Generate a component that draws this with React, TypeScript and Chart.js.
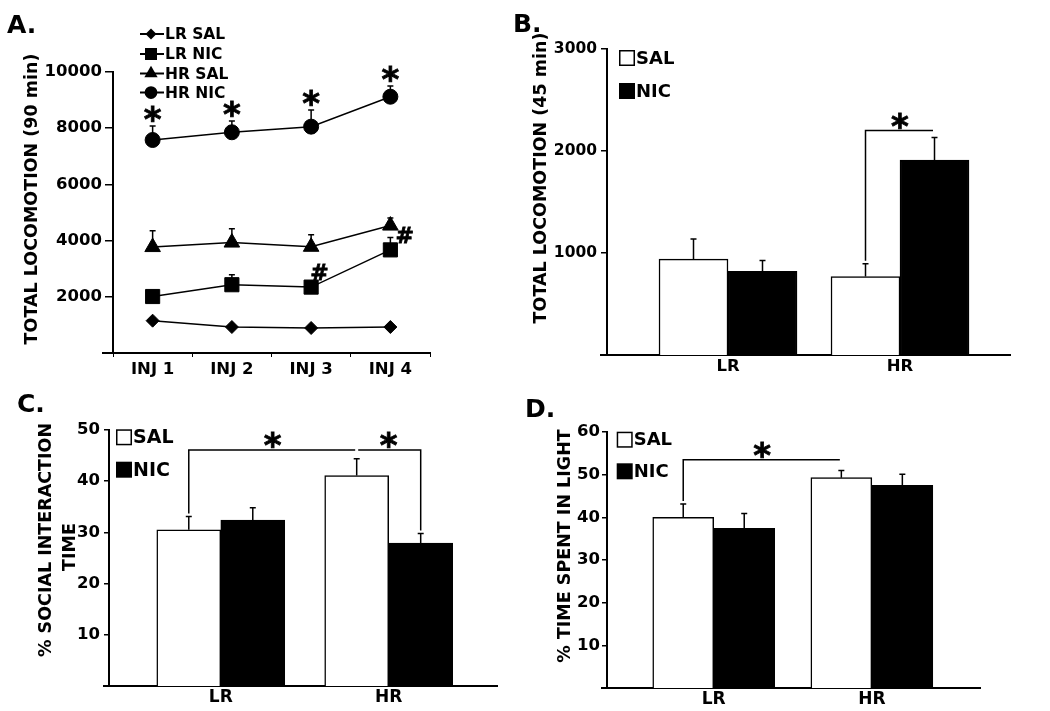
import React, { useEffect, useRef } from 'react';
import { Chart, registerables } from 'chart.js';

Chart.register(...registerables);

// ---------------- Panel A data ----------------
const INJ_LABELS = ['INJ 1', 'INJ 2', 'INJ 3', 'INJ 4'];
const A_SERIES_NAMES = ['LR SAL', 'LR NIC', 'HR SAL', 'HR NIC'];
const LR_SAL = [1150, 925, 890, 925];
const LR_SAL_ERR = [90, 70, 70, 70];
const LR_NIC = [2010, 2430, 2345, 3670];
const LR_NIC_ERR = [180, 355, 170, 440];
const HR_SAL = [3770, 3930, 3780, 4535];
const HR_SAL_ERR = [580, 490, 430, 265];
const HR_NIC = [7580, 7855, 8055, 9120];
const HR_NIC_ERR = [500, 400, 590, 380];
const A_Y_TICKS = [2000, 4000, 6000, 8000, 10000];
const A_STAR_INDEX = [0, 1, 2, 3]; // HR NIC points marked *
const A_HASH_INDEX = [2, 3]; // LR NIC points marked #

// ---------------- Panels B, C, D data ----------------
const GROUPS = ['LR', 'HR'];
const TREATMENTS = ['SAL', 'NIC'];

const B_SAL = [940, 770];
const B_SAL_ERR = [197, 124];
const B_NIC = [820, 1910];
const B_NIC_ERR = [107, 223];
const B_Y_TICKS = [1000, 2000, 3000];
const B_BRACKETS = [{ from: [1, 0], to: [1, 1], y: 2200, legFrom: true, legTo: false }];

const C_SAL = [30.5, 41.1];
const C_SAL_ERR = [2.6, 3.3];
const C_NIC = [32.4, 27.9];
const C_NIC_ERR = [2.4, 1.9];
const C_Y_TICKS = [10, 20, 30, 40, 50];
const C_BRACKETS = [
  { from: [0, 0], to: [1, 0], y: 46.1, legFrom: true, legTo: false },
  { from: [1, 0], to: [1, 1], y: 46.1, legFrom: false, legTo: true },
];

const D_SAL = [40.0, 49.3];
const D_SAL_ERR = [3.1, 1.7];
const D_NIC = [37.4, 47.5];
const D_NIC_ERR = [3.5, 2.6];
const D_Y_TICKS = [10, 20, 30, 40, 50, 60];
const D_BRACKETS = [{ from: [0, 0], to: [1, 0], y: 53.5, legFrom: true, legTo: false }];

// ---------------- helpers ----------------
const FAMILY = "'DejaVu Sans', 'Liberation Sans', Arial, sans-serif";
const fnt = (size: number) => ({ family: FAMILY, size, weight: 'bold' as const, lineHeight: 1.2 });
const cssFont = (size: number) => `bold ${size}px ${FAMILY}`;
const plainNum = (v: any) => String(v);

type Rect = { left: number; top: number; width: number; height: number };
type Area = { l: number; t: number; r: number; b: number };

function padFor(c: Rect, a: Area, yW: number, xH: number) {
  return {
    left: a.l - c.left - yW,
    top: a.t - c.top,
    right: c.left + c.width - a.r,
    bottom: c.top + c.height - a.b - xH,
  };
}

function glyph(ctx: CanvasRenderingContext2D, s: string, cx: number, cy: number, size: number) {
  ctx.font = cssFont(size);
  ctx.textAlign = 'left';
  ctx.textBaseline = 'alphabetic';
  const m = ctx.measureText(s);
  const x = cx - (m.actualBoundingBoxRight - m.actualBoundingBoxLeft) / 2;
  const y = cy + (m.actualBoundingBoxAscent - m.actualBoundingBoxDescent) / 2;
  ctx.fillText(s, x, y);
  ctx.lineWidth = 0.8;
  ctx.strokeText(s, x, y);
}

function vText(ctx: CanvasRenderingContext2D, s: string, cx: number, cy: number, size: number) {
  ctx.save();
  ctx.translate(cx, cy);
  ctx.rotate(-Math.PI / 2);
  ctx.font = cssFont(size);
  ctx.textAlign = 'center';
  ctx.textBaseline = 'middle';
  ctx.fillText(s, 0, 0);
  ctx.restore();
}

function marker(ctx: CanvasRenderingContext2D, style: string, x: number, y: number, r: number) {
  ctx.beginPath();
  if (style === 'circle') ctx.arc(x, y, r, 0, Math.PI * 2);
  else if (style === 'rect') {
    const s = r * Math.SQRT1_2;
    ctx.rect(x - s, y - s, 2 * s, 2 * s);
  } else if (style === 'rectRot') {
    ctx.moveTo(x, y - r);
    ctx.lineTo(x + r, y);
    ctx.lineTo(x, y + r);
    ctx.lineTo(x - r, y);
    ctx.closePath();
  } else {
    const k = Math.sin(Math.PI / 3) * r;
    ctx.moveTo(x, y - r);
    ctx.lineTo(x + k, y + r / 2);
    ctx.lineTo(x - k, y + r / 2);
    ctx.closePath();
  }
  ctx.fill();
}

// ---------------- Panel A ----------------
const A_CANVAS: Rect = { left: 0, top: 0, width: 500, height: 380 };
const A_AREA: Area = { l: 113, t: 72, r: 430, b: 353 };
const A_STYLES = ['rectRot', 'rect', 'triangle', 'circle'];
const A_RADII = [6.5, 10, 9, 7.5];
const A_VALUES = [LR_SAL, LR_NIC, HR_SAL, HR_NIC];
const A_ERRS = [LR_SAL_ERR, LR_NIC_ERR, HR_SAL_ERR, HR_NIC_ERR];

function configA(): any {
  const Y_W = 70;
  const X_H = 24;
  const plugin = {
    id: 'aDecor',
    afterDatasetsDraw(chart: any) {
      const ctx: CanvasRenderingContext2D = chart.ctx;
      const y = chart.scales.y;
      ctx.save();
      ctx.strokeStyle = '#000';
      ctx.fillStyle = '#000';
      ctx.lineWidth = 1.5;
      A_VALUES.forEach((vals, di) => {
        const meta = chart.getDatasetMeta(di);
        meta.data.forEach((pt: any, i: number) => {
          const top = y.getPixelForValue(vals[i] + A_ERRS[di][i]);
          ctx.lineWidth = 1.5;
          ctx.beginPath();
          ctx.moveTo(pt.x, pt.y);
          ctx.lineTo(pt.x, top);
          ctx.moveTo(pt.x - 3, top);
          ctx.lineTo(pt.x + 3, top);
          ctx.stroke();
        });
      });
      const hr = chart.getDatasetMeta(3);
      A_STAR_INDEX.forEach((i) => {
        const top = y.getPixelForValue(HR_NIC[i] + HR_NIC_ERR[i]);
        glyph(ctx, '*', hr.data[i].x, top - 12, 34);
      });
      const lr = chart.getDatasetMeta(1);
      A_HASH_INDEX.forEach((i, k) => {
        glyph(ctx, '#', lr.data[i].x + (k === 0 ? 8 : 14), lr.data[i].y - 15, 22);
      });
      ctx.restore();
    },
    afterDraw(chart: any) {
      const ctx: CanvasRenderingContext2D = chart.ctx;
      const ca = chart.chartArea;
      ctx.save();
      ctx.fillStyle = '#000';
      ctx.strokeStyle = '#000';
      // x axis extension left of y axis
      ctx.lineWidth = 2;
      ctx.beginPath();
      ctx.moveTo(ca.left - 11, ca.bottom);
      ctx.lineTo(ca.left, ca.bottom);
      ctx.stroke();
      // panel letter
      ctx.font = cssFont(25);
      ctx.textAlign = 'left';
      ctx.textBaseline = 'alphabetic';
      ctx.fillText('A.', 7, 33);
      // y title
      vText(ctx, 'TOTAL LOCOMOTION (90 min)', 32, 199, 17.5);
      // legend
      const rows = [34, 54, 73.5, 92.5];
      A_SERIES_NAMES.forEach((name, i) => {
        const yy = rows[i];
        ctx.lineWidth = 2;
        ctx.beginPath();
        ctx.moveTo(140, yy);
        ctx.lineTo(164, yy);
        ctx.stroke();
        marker(ctx, A_STYLES[i], 151, yy, A_RADII[i] * 0.85);
        ctx.font = cssFont(15.5);
        ctx.textAlign = 'left';
        ctx.textBaseline = 'middle';
        ctx.fillText(name, 165, yy + 1);
      });
      ctx.restore();
    },
  };
  return {
    type: 'line',
    data: {
      labels: INJ_LABELS,
      datasets: A_SERIES_NAMES.map((name, i) => ({
        label: name,
        data: A_VALUES[i],
        borderColor: '#000',
        backgroundColor: '#000',
        borderWidth: 1.5,
        pointStyle: A_STYLES[i],
        pointRadius: A_RADII[i],
        pointHoverRadius: A_RADII[i],
        pointBackgroundColor: '#000',
        pointBorderColor: '#000',
        pointBorderWidth: 1,
        tension: 0,
        fill: false,
      })),
    },
    options: {
      animation: false,
      responsive: false,
      devicePixelRatio: 1,
      events: [],
      layout: { padding: padFor(A_CANVAS, A_AREA, Y_W, X_H) },
      plugins: { legend: { display: false }, tooltip: { enabled: false }, title: { display: false } },
      scales: {
        x: {
          type: 'category',
          offset: true,
          grid: { display: true, drawOnChartArea: false, drawTicks: true, tickLength: 4, offset: true, color: '#000', lineWidth: 1 },
          border: { display: true, color: '#000', width: 2 },
          ticks: { font: fnt(16.5), color: '#000', padding: 3, maxRotation: 0, autoSkip: false },
          afterFit: (s: any) => { s.height = X_H; },
        },
        y: {
          min: 0,
          max: 10000,
          afterBuildTicks: (s: any) => { s.ticks = A_Y_TICKS.map((v) => ({ value: v })); },
          ticks: { font: fnt(16.5), color: '#000', padding: 3, callback: plainNum },
          grid: { display: true, drawOnChartArea: false, drawTicks: true, tickLength: 8, color: '#000', lineWidth: 1.5 },
          border: { display: true, color: '#000', width: 2 },
          afterFit: (s: any) => { s.width = Y_W; },
        },
      },
    },
    plugins: [plugin],
  };
}

// ---------------- Bar panels ----------------
type BarPanel = {
  id: string;
  letter: string;
  letterPos: [number, number];
  canvas: Rect;
  area: Area;
  xMin: number;
  xMax: number;
  barThickness: number;
  yMax: number;
  yTicks: number[];
  sal: number[];
  salErr: number[];
  nic: number[];
  nicErr: number[];
  brackets: { from: number[]; to: number[]; y: number; legFrom: boolean; legTo: boolean }[];
  titles: { text: string; x: number; y: number }[];
  titleSize: number;
  legend: { x: number; y1: number; y2: number; textSize: number };
  yFont: number;
  xFont: number;
  tickLen: number;
  tickPad: number;
  xPad: number;
  axisExt: number;
};

const PANEL_B: BarPanel = {
  id: 'B', letter: 'B.', letterPos: [13, 32],
  canvas: { left: 500, top: 0, width: 550, height: 380 },
  area: { l: 607, t: 49, r: 1010, b: 355 },
  xMin: 0.2965, xMax: 2.6395, barThickness: 69,
  yMax: 3000, yTicks: B_Y_TICKS,
  sal: B_SAL, salErr: B_SAL_ERR, nic: B_NIC, nicErr: B_NIC_ERR,
  brackets: B_BRACKETS,
  titles: [{ text: 'TOTAL LOCOMOTION (45 min)', x: 41.7, y: 178 }], titleSize: 17.5,
  legend: { x: 119, y1: 50, y2: 83, textSize: 18 },
  yFont: 15.5, xFont: 16.5, tickLen: 6, tickPad: 4, xPad: 2, axisExt: 7,
};

const PANEL_C: BarPanel = {
  id: 'C', letter: 'C.', letterPos: [17, 32],
  canvas: { left: 0, top: 380, width: 500, height: 331 },
  area: { l: 109, t: 430, r: 497, b: 686 },
  xMin: 0.3343, xMax: 2.645, barThickness: 64,
  yMax: 50, yTicks: C_Y_TICKS,
  sal: C_SAL, salErr: C_SAL_ERR, nic: C_NIC, nicErr: C_NIC_ERR,
  brackets: C_BRACKETS,
  titles: [
    { text: '% SOCIAL INTERACTION', x: 46.7, y: 160 },
    { text: 'TIME', x: 70, y: 167 },
  ], titleSize: 17.5,
  legend: { x: 116, y1: 49.3, y2: 81.7, textSize: 19 },
  yFont: 16.5, xFont: 17, tickLen: 5, tickPad: 4, xPad: 1, axisExt: 6,
};

const PANEL_D: BarPanel = {
  id: 'D', letter: 'D.', letterPos: [25, 37],
  canvas: { left: 500, top: 380, width: 550, height: 331 },
  area: { l: 607, t: 432, r: 980, b: 688 },
  xMin: 0.325, xMax: 2.684, barThickness: 61,
  yMax: 60, yTicks: D_Y_TICKS,
  sal: D_SAL, salErr: D_SAL_ERR, nic: D_NIC, nicErr: D_NIC_ERR,
  brackets: D_BRACKETS,
  titles: [{ text: '% TIME SPENT IN LIGHT', x: 65, y: 166 }], titleSize: 17.5,
  legend: { x: 116.7, y1: 51.7, y2: 83.3, textSize: 18 },
  yFont: 16.5, xFont: 17, tickLen: 5, tickPad: 2, xPad: 1, axisExt: 6,
};

function configBar(p: BarPanel): any {
  const Y_W = 80;
  const X_H = 22;
  const vals = [p.sal, p.nic];
  const errs = [p.salErr, p.nicErr];
  const plugin = {
    id: 'decor' + p.id,
    afterDatasetsDraw(chart: any) {
      const ctx: CanvasRenderingContext2D = chart.ctx;
      const y = chart.scales.y;
      ctx.save();
      ctx.strokeStyle = '#000';
      ctx.fillStyle = '#000';
      const errTop = (g: number, s: number) => y.getPixelForValue(vals[s][g] + errs[s][g]);
      const el = (g: number, s: number) => chart.getDatasetMeta(s).data[g];
      [0, 1].forEach((s) => {
        chart.getDatasetMeta(s).data.forEach((bar: any, g: number) => {
          const top = errTop(g, s);
          ctx.lineWidth = 1.5;
          ctx.beginPath();
          ctx.moveTo(bar.x, bar.y);
          ctx.lineTo(bar.x, top);
          ctx.moveTo(bar.x - 3, top);
          ctx.lineTo(bar.x + 3, top);
          ctx.stroke();
        });
      });
      p.brackets.forEach((br) => {
        const a = el(br.from[0], br.from[1]);
        const b = el(br.to[0], br.to[1]);
        const x1 = a.x + (br.legFrom ? 0 : 1.5);
        const x2 = b.x - (br.legTo ? 0 : 1.5);
        const yb = y.getPixelForValue(br.y);
        ctx.lineWidth = 1.5;
        ctx.beginPath();
        if (br.legFrom) {
          ctx.moveTo(x1, errTop(br.from[0], br.from[1]) - 3);
          ctx.lineTo(x1, yb);
        } else ctx.moveTo(x1, yb);
        ctx.lineTo(x2, yb);
        if (br.legTo) ctx.lineTo(x2, errTop(br.to[0], br.to[1]) - 3);
        ctx.stroke();
        glyph(ctx, '*', (a.x + b.x) / 2, yb - 10, 34);
      });
      ctx.restore();
    },
    afterDraw(chart: any) {
      const ctx: CanvasRenderingContext2D = chart.ctx;
      const ca = chart.chartArea;
      ctx.save();
      ctx.fillStyle = '#000';
      ctx.strokeStyle = '#000';
      ctx.lineWidth = 2;
      ctx.beginPath();
      ctx.moveTo(ca.left - p.axisExt, ca.bottom);
      ctx.lineTo(ca.left, ca.bottom);
      ctx.stroke();
      ctx.font = cssFont(25);
      ctx.textAlign = 'left';
      ctx.textBaseline = 'alphabetic';
      ctx.fillText(p.letter, p.letterPos[0], p.letterPos[1]);
      p.titles.forEach((t) => vText(ctx, t.text, t.x, t.y, p.titleSize));
      // legend
      const L = p.legend;
      const box = 16;
      [L.y1, L.y2].forEach((yy, i) => {
        ctx.lineWidth = 1.5;
        if (i === 0) {
          ctx.fillStyle = '#fff';
          ctx.fillRect(L.x, yy, box, box);
          ctx.strokeRect(L.x + 0.75, yy + 0.75, box - 1.5, box - 1.5);
        } else {
          ctx.fillStyle = '#000';
          ctx.fillRect(L.x, yy, box, box);
        }
        ctx.fillStyle = '#000';
        ctx.font = cssFont(L.textSize);
        ctx.textAlign = 'left';
        ctx.textBaseline = 'middle';
        ctx.fillText(TREATMENTS[i], L.x + box + 1, yy + box / 2 + 1);
      });
      ctx.restore();
    },
  };
  return {
    type: 'bar',
    data: {
      datasets: TREATMENTS.map((name, s) => ({
        label: name,
        data: vals[s].map((v, g) => ({ x: g + 1, y: v })),
        backgroundColor: s === 0 ? '#fff' : '#000',
        borderColor: '#000',
        borderWidth: 1.5,
        borderSkipped: 'start',
        barThickness: p.barThickness,
        grouped: true,
      })),
    },
    options: {
      animation: false,
      responsive: false,
      devicePixelRatio: 1,
      events: [],
      layout: { padding: padFor(p.canvas, p.area, Y_W, X_H) },
      plugins: { legend: { display: false }, tooltip: { enabled: false }, title: { display: false } },
      scales: {
        x: {
          type: 'linear',
          min: p.xMin,
          max: p.xMax,
          offset: false,
          afterBuildTicks: (s: any) => { s.ticks = GROUPS.map((_, i) => ({ value: i + 1 })); },
          ticks: {
            font: fnt(p.xFont), color: '#000', padding: p.xPad, maxRotation: 0, autoSkip: false,
            callback: (v: any) => GROUPS[Math.round(Number(v)) - 1] ?? '',
          },
          grid: { display: false, drawTicks: false, offset: false },
          border: { display: true, color: '#000', width: 2 },
          afterFit: (s: any) => { s.height = X_H; },
        },
        y: {
          min: 0,
          max: p.yMax,
          afterBuildTicks: (s: any) => { s.ticks = p.yTicks.map((v) => ({ value: v })); },
          ticks: { font: fnt(p.yFont), color: '#000', padding: p.tickPad, callback: plainNum },
          grid: { display: true, drawOnChartArea: false, drawTicks: true, tickLength: p.tickLen, color: '#000', lineWidth: 1.5 },
          border: { display: true, color: '#000', width: 2 },
          afterFit: (s: any) => { s.width = Y_W; },
        },
      },
    },
    plugins: [plugin],
  };
}

const CANVASES: Rect[] = [A_CANVAS, PANEL_B.canvas, PANEL_C.canvas, PANEL_D.canvas];

export default function App() {
  const refs = [useRef<HTMLCanvasElement>(null), useRef<HTMLCanvasElement>(null), useRef<HTMLCanvasElement>(null), useRef<HTMLCanvasElement>(null)];
  useEffect(() => {
    const cfgs = [configA(), configBar(PANEL_B), configBar(PANEL_C), configBar(PANEL_D)];
    const charts = cfgs.map((cfg, i) => new Chart(refs[i].current as HTMLCanvasElement, cfg));
    return () => charts.forEach((c) => c.destroy());
  }, []);
  return (
    <div style={{ position: 'absolute', left: 0, top: 0, width: 1050, height: 711, background: '#fff', overflow: 'hidden' }}>
      {CANVASES.map((c, i) => (
        <canvas
          key={i}
          ref={refs[i]}
          width={c.width}
          height={c.height}
          style={{ position: 'absolute', left: c.left, top: c.top, width: c.width, height: c.height }}
        />
      ))}
    </div>
  );
}
